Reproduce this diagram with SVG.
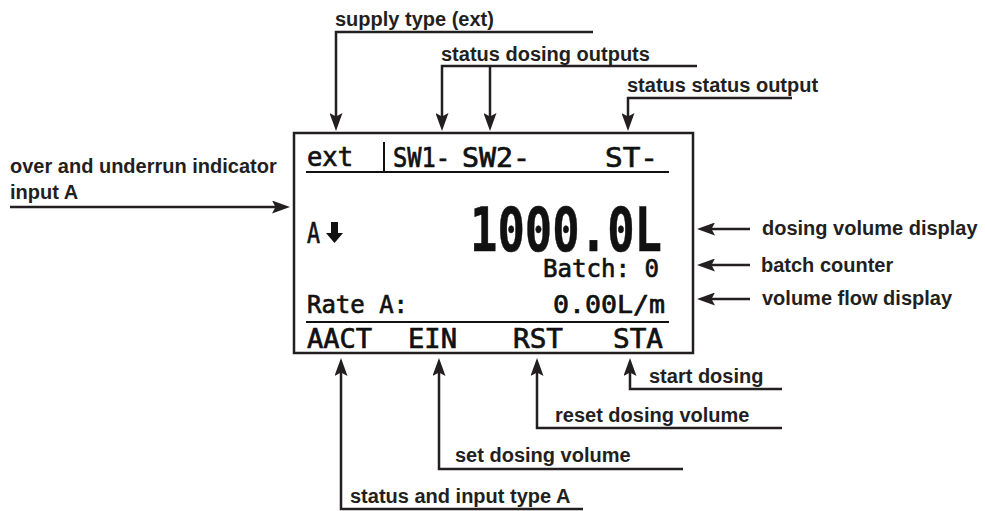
<svg xmlns="http://www.w3.org/2000/svg" width="985" height="511" viewBox="0 0 985 511">
<style>
.lbl{font-family:"Liberation Sans",Arial,sans-serif;font-weight:bold;font-size:20px;fill:#231f20}
.lcd{font-family:"DejaVu Sans Mono","Liberation Mono",monospace;fill:#111;stroke:#111;stroke-width:0.7}
.big{stroke-width:0.5}
.con{fill:none;stroke:#231f20;stroke-width:2.5}
.frame{fill:#fff;stroke:#231f20;stroke-width:2.5}
.rule{stroke:#111;stroke-width:2}
</style>
<defs>
<marker id="ah" viewBox="0 0 18 13" refX="10" refY="6.5" markerWidth="18" markerHeight="13" markerUnits="userSpaceOnUse" orient="auto">
<path d="M0,0 L18,6.5 L0,13 L3.5,6.5 z" fill="#231f20"/>
</marker>
</defs>
<rect width="985" height="511" fill="#fff"/>
<g id="display">
<rect class="frame" x="294" y="133" width="399" height="220"/>
<line class="rule" x1="306" y1="172" x2="669" y2="172"/>
<line class="rule" x1="384" y1="142" x2="384" y2="172"/>
<line class="rule" x1="306" y1="322" x2="669" y2="322"/>
<text class="lcd" x="307" y="166" font-size="26" textLength="46" lengthAdjust="spacingAndGlyphs">ext</text>
<text class="lcd" x="393" y="167" font-size="26" textLength="57" lengthAdjust="spacingAndGlyphs">SW1-</text>
<text class="lcd" x="462" y="167" font-size="26" textLength="68" lengthAdjust="spacingAndGlyphs">SW2-</text>
<text class="lcd" x="605" y="167" font-size="26" textLength="53" lengthAdjust="spacingAndGlyphs">ST-</text>
<text class="lcd" x="307" y="243" font-size="28" textLength="13" lengthAdjust="spacingAndGlyphs">A</text>
<path d="M331,222 H338 V233 H343 L334.5,243 L326,233 H331 Z" fill="#111"/>
<text class="lcd big" x="470" y="251" font-size="60" font-weight="bold" textLength="192" lengthAdjust="spacingAndGlyphs">1000.0L</text>
<text class="lcd" x="543" y="277" font-size="25" textLength="116" lengthAdjust="spacingAndGlyphs">Batch: 0</text>
<text class="lcd" x="307" y="313" font-size="25" textLength="101" lengthAdjust="spacingAndGlyphs">Rate A:</text>
<text class="lcd" x="553" y="313" font-size="25" textLength="112" lengthAdjust="spacingAndGlyphs">0.00L/m</text>
<text class="lcd" x="307" y="348" font-size="27" textLength="65" lengthAdjust="spacingAndGlyphs">AACT</text>
<text class="lcd" x="408" y="348" font-size="27" textLength="49" lengthAdjust="spacingAndGlyphs">EIN</text>
<text class="lcd" x="513" y="348" font-size="27" textLength="50" lengthAdjust="spacingAndGlyphs">RST</text>
<text class="lcd" x="613" y="348" font-size="27" textLength="50" lengthAdjust="spacingAndGlyphs">STA</text>
</g>
<g id="labels">
<text class="lbl" x="335" y="26">supply type (ext)</text>
<text class="lbl" x="441" y="61">status dosing outputs</text>
<text class="lbl" x="627" y="92">status status output</text>
<text class="lbl" x="10" y="173">over and underrun indicator</text>
<text class="lbl" x="10" y="199">input A</text>
<text class="lbl" x="762" y="235">dosing volume display</text>
<text class="lbl" x="761" y="272">batch counter</text>
<text class="lbl" x="762" y="305">volume flow display</text>
<text class="lbl" x="649" y="383">start dosing</text>
<text class="lbl" x="555" y="422">reset dosing volume</text>
<text class="lbl" x="455" y="462">set dosing volume</text>
<text class="lbl" x="350" y="503">status and input type A</text>
</g>
<g id="connectors">
<path class="con" d="M593,32 H336 V123" marker-end="url(#ah)"/>
<path class="con" d="M697,66 H442 V123" marker-end="url(#ah)"/>
<path class="con" d="M490,66 V123" marker-end="url(#ah)"/>
<path class="con" d="M792,98 H628 V123" marker-end="url(#ah)"/>
<path class="con" d="M10,207 H282" marker-end="url(#ah)"/>
<path class="con" d="M750,229 H705" marker-end="url(#ah)"/>
<path class="con" d="M750,265 H705" marker-end="url(#ah)"/>
<path class="con" d="M750,299 H705" marker-end="url(#ah)"/>
<path class="con" d="M583,509 H341 V366" marker-end="url(#ah)"/>
<path class="con" d="M683,469 H439 V366" marker-end="url(#ah)"/>
<path class="con" d="M782,428 H537 V366" marker-end="url(#ah)"/>
<path class="con" d="M782,389 H630 V366" marker-end="url(#ah)"/>
</g>
</svg>
